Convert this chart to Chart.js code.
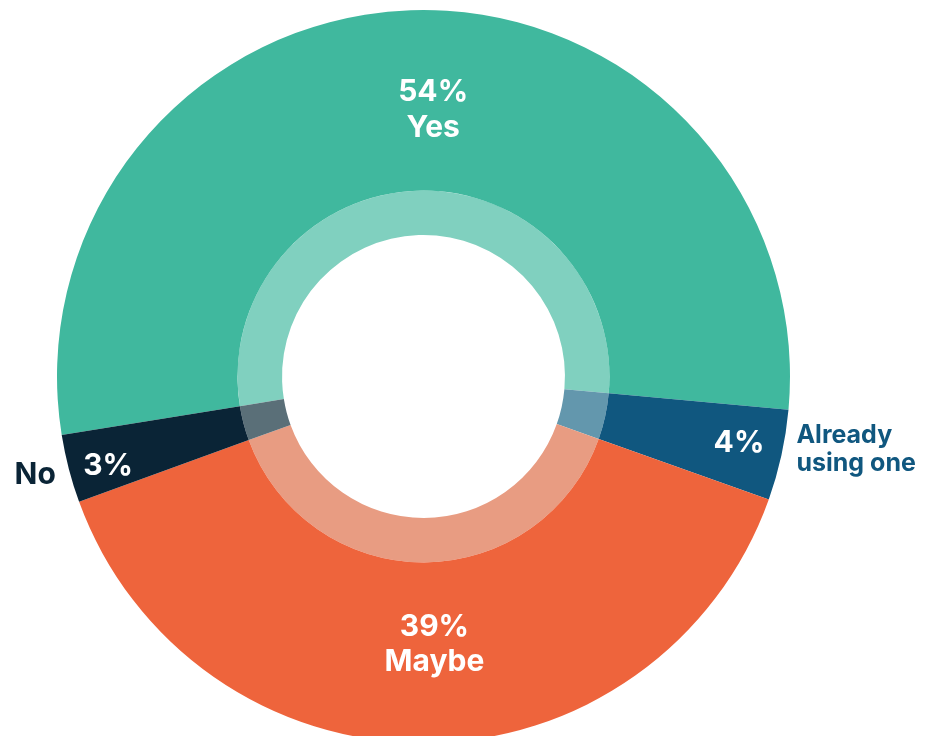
<!DOCTYPE html>
<html>
<head>
<meta charset="utf-8">
<title>Doughnut</title>
<script src="https://cdn.jsdelivr.net/npm/chart.js@4"></script>
<style>
  html, body { margin: 0; padding: 0; background: #fff; overflow: hidden; }
  body { width: 925px; height: 736px; position: relative; }
  #wrap { position: absolute; left: 0; top: 0; width: 925px; height: 753px; }
</style>
</head>
<body>
<div id="wrap"><canvas id="grafico"></canvas></div>
<script>
// dados
const categorias = ['Yes', 'Already using one', 'Maybe', 'No'];
const valores = [54, 4, 39, 3];
const rotulos = ['54%', '4%', '39%', '3%'];

const coresFatia = ['#40b89e', '#10577f', '#ee643c', '#0a2436'];
const coresAnel = ['#80d0bf', '#6397ad', '#e89c82', '#5a6f78'];

const FONTE = 'Inter, Lato, sans-serif';

// desenha os rótulos das fatias
const rotulosPlugin = {
    id: 'rotulos',
    afterDatasetsDraw(chart) {
        const ctx = chart.ctx;
        const arcos = chart.getDatasetMeta(0).data;
        // ajustes finos (raio, dx, dy) de cada rótulo
        const ajuste = [
            { r: 268, dx: 19, dy: 3 },
            { r: 322, dx: 1, dy: 0 },
            { r: 268, dx: 10, dy: -4 },
            { r: 327, dx: 1, dy: 0 }
        ];
        ctx.save();
        ctx.textAlign = 'center';
        ctx.textBaseline = 'alphabetic';
        arcos.forEach((arc, i) => {
            const p = arc.getProps(['x', 'y', 'startAngle', 'endAngle', 'outerRadius']);
            const meio = (p.startAngle + p.endAngle) / 2;
            const a = ajuste[i];
            const cx = p.x + Math.cos(meio) * a.r + a.dx;
            const cy = p.y + Math.sin(meio) * a.r + a.dy;
            ctx.fillStyle = '#ffffff';
            ctx.font = '700 30px ' + FONTE;
            if (i === 0) {
                ctx.fillText(rotulos[i], cx, cy - 11);
                ctx.fillText(categorias[i], cx, cy + 25);
            } else if (i === 2) {
                ctx.fillText(rotulos[i], cx, cy - 4);
                ctx.fillText(categorias[i], cx, cy + 31);
            } else if (i === 1) {
                ctx.fillText(rotulos[i], cx, cy + 6);
                // nome fora do anel, à direita
                const ox = p.x + Math.cos(meio) * p.outerRadius;
                ctx.fillStyle = coresFatia[i];
                ctx.textAlign = 'left';
                ctx.font = '700 25px ' + FONTE;
                ctx.fillText('Already', ox + 15, cy - 3);
                ctx.fillText('using one', ox + 15, cy + 25);
                ctx.textAlign = 'center';
            } else {
                ctx.fillText(rotulos[i], cx, cy + 16);
                // nome fora do anel, à esquerda
                const ox = p.x + Math.cos(meio) * p.outerRadius;
                ctx.fillStyle = coresFatia[i];
                ctx.textAlign = 'right';
                ctx.fillText(categorias[i], ox - 13, cy + 25);
                ctx.textAlign = 'center';
            }
        });
        ctx.restore();
    }
};

const ctx = document.getElementById('grafico').getContext('2d');
const chart = new Chart(ctx, {
    type: 'doughnut',
    data: {
        labels: categorias,
        datasets: [{
            data: valores,
            backgroundColor: coresFatia,
            borderWidth: 0,
            weight: 180.5
        }, {
            data: valores,
            backgroundColor: coresAnel,
            borderWidth: 0,
            weight: 44.5
        }]
    },
    options: {
        responsive: true,
        maintainAspectRatio: false,
        animation: false,
        rotation: 260.8,
        cutout: '38.6%',
        layout: { padding: { left: 57, right: 135, top: 10, bottom: 10 } },
        plugins: {
            legend: { display: false },
            tooltip: { enabled: false }
        }
    },
    plugins: [rotulosPlugin]
});
</script>
</body>
</html>
